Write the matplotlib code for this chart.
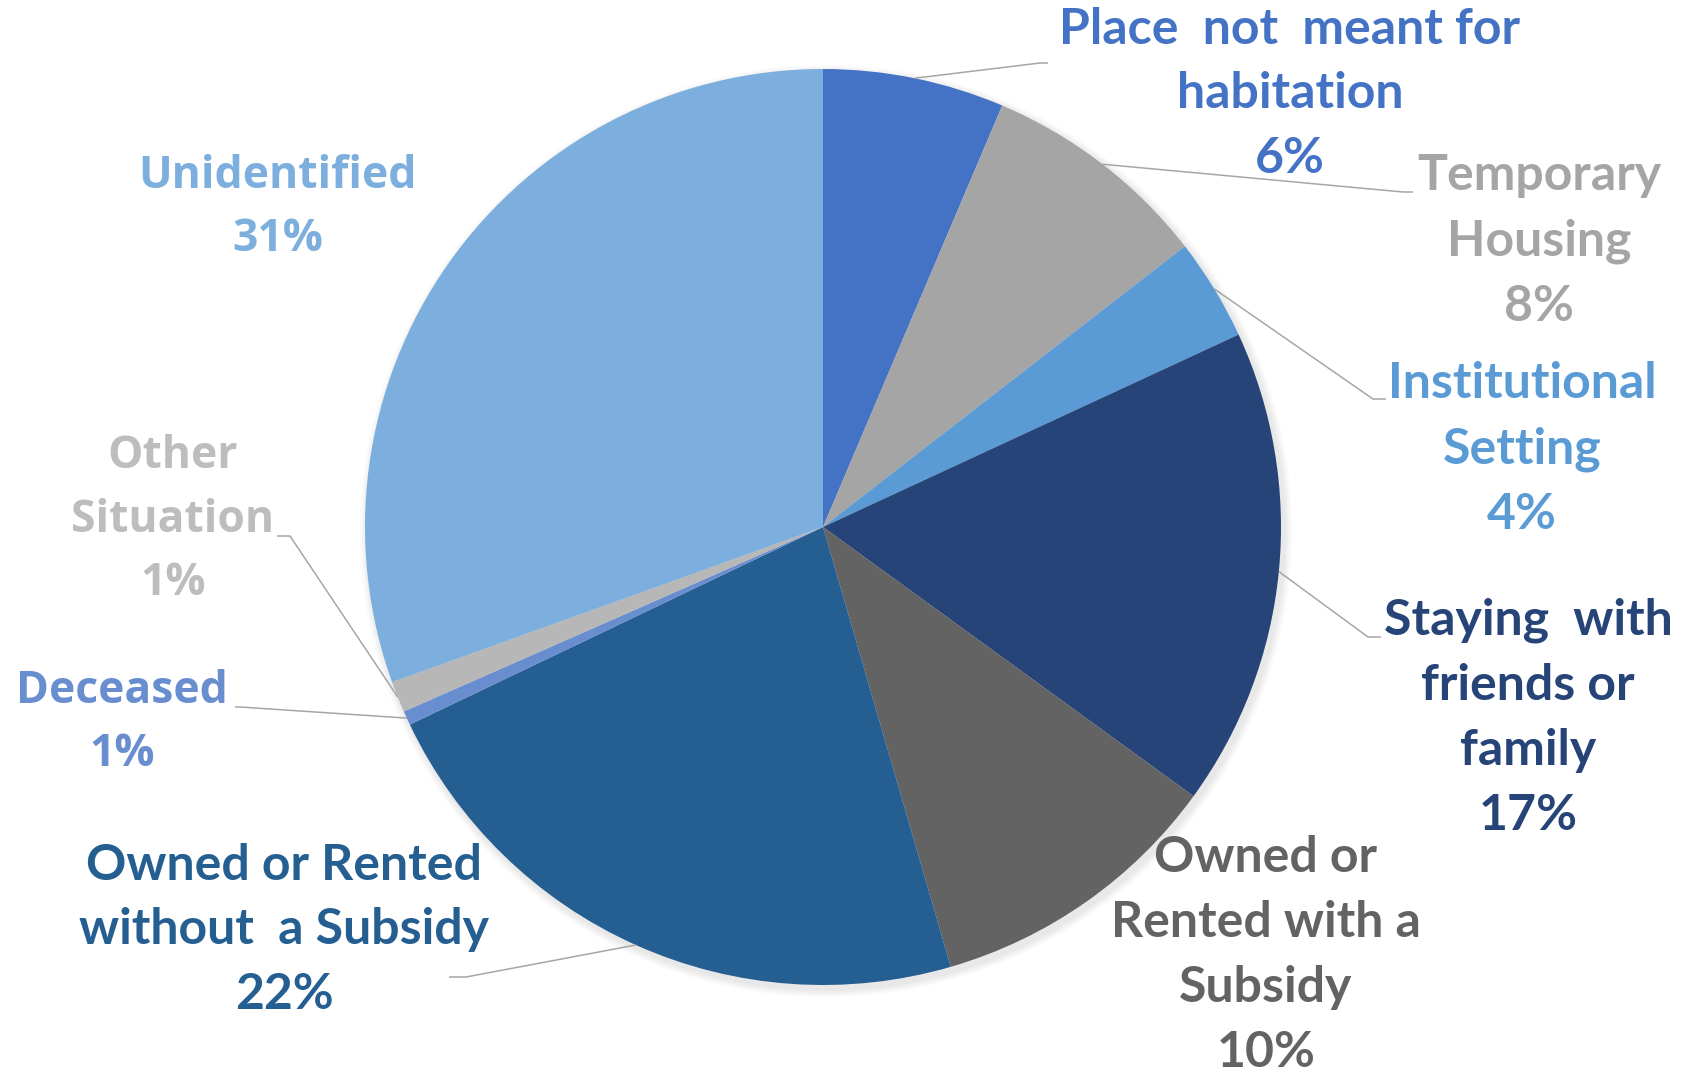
import numpy as np
import matplotlib
matplotlib.use("Agg")
import matplotlib.pyplot as plt
from matplotlib.patches import Circle

# ---- data ----
categories = ["Place  not  meant for\nhabitation", "Temporary\nHousing", "Institutional\nSetting",
              "Staying  with\nfriends or\nfamily", "Owned or\nRented with a\nSubsidy",
              "Owned or Rented\nwithout  a Subsidy", "Deceased", "Other\nSituation", "Unidentified"]
values = [6.4, 8.1, 3.6, 16.9, 10.5, 22.4, 0.5, 1.1, 30.5]
pct_labels = ["6%", "8%", "4%", "17%", "10%", "22%", "1%", "1%", "31%"]
colors = ["#4472C4", "#A5A5A5", "#5B9BD5", "#264478", "#636363",
          "#255E91", "#698ED0", "#B7B7B7", "#7CAFDD"]
text_colors = ["#4472C4", "#A5A5A5", "#5B9BD5", "#264478", "#636363",
               "#255E91", "#698ED0", "#BDBDBD", "#7CAFDD"]

W, H = 1698, 1073
fig = plt.figure(figsize=(W / 100, H / 100), dpi=100)
ax = fig.add_axes([0, 0, 1, 1])

def Y(y):
    return H - y

cx, cy, R = 823, 527, 458

# subtle shadow
for i, a in enumerate([0.025, 0.025, 0.025, 0.02]):
    ax.add_patch(Circle((cx + 3, Y(cy) - 4), R + 2 + 2 * i, color="black", alpha=a, lw=0, zorder=0))

wedges, _ = ax.pie(values, colors=colors, startangle=90, counterclock=False,
                   center=(cx, Y(cy)), radius=R, wedgeprops=dict(linewidth=0))
ax.set_xlim(0, W)
ax.set_ylim(0, H)
ax.set_aspect("equal")
ax.axis("off")

# label layout: text centre, elbow, end of leader (full-image pixel coords)
layout = [
    ((1290, 94), (1040, 63), (1048, 63)),
    ((1539, 241), (1403, 192), (1413, 192)),
    ((1522, 449), (1373, 399), (1386, 399)),
    ((1528, 718), (1368, 637), (1381, 637)),
    ((1266, 955), None, None),
    ((284, 930), (466, 977), (449, 977)),
    ((122, 723), (240, 707), (235, 707)),
    ((173, 520), (290, 536), (277, 536)),
    ((278, 208), None, None),
]
fonts = ["Lato"] * 6 + ["Open Sans"] * 3
sizes = [36, 36, 36, 36, 36, 36, 32, 32, 32]
spacing = [1.54] * 6 + [1.55] * 3

for w, cat, pct, tc, (tpos, elbow, end), fnt, fs, ls in zip(wedges, categories, pct_labels, text_colors,
                                                            layout, fonts, sizes, spacing):
    ax.text(tpos[0], Y(tpos[1]), cat + "\n" + pct, ha="center", va="center", color=tc,
            fontsize=fs, fontweight="bold", family=fnt, linespacing=ls, zorder=5)
    if elbow is not None:
        ang = np.deg2rad((w.theta1 + w.theta2) / 2)
        sx = cx + R * np.cos(ang)
        sy = Y(cy) + R * np.sin(ang)
        ax.plot([sx, elbow[0], end[0]], [sy, Y(elbow[1]), Y(end[1])], color="#A6A6A6", lw=1.1,
                zorder=4, solid_capstyle="butt")

fig.savefig("out.png", dpi=100, facecolor="white")
